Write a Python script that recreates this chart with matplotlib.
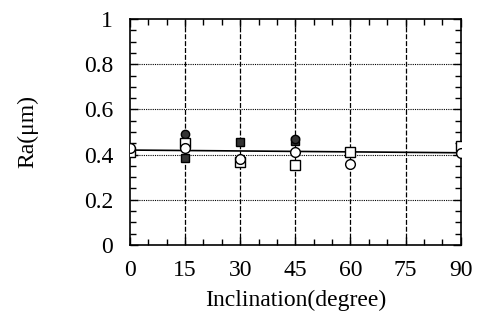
import matplotlib
matplotlib.use("Agg")
import matplotlib.pyplot as plt
import numpy as np
from matplotlib.ticker import MultipleLocator

plt.rcParams['font.family'] = ['Liberation Serif', 'DejaVu Serif']

# open circles
oc_x = [0, 15, 30, 45, 60, 90]
oc_y = [0.43, 0.43, 0.38, 0.41, 0.36, 0.405]
# open squares
os_x = [0, 15, 30, 45, 60, 90]
os_y = [0.41, 0.45, 0.365, 0.355, 0.41, 0.437]
# filled circles
fc_x = [15, 45]
fc_y = [0.49, 0.47]
# filled squares
fs_x = [15, 30, 45]
fs_y = [0.385, 0.455, 0.46]
# fitted line
fit_x = [0, 90]
fit_y = [0.42, 0.408]

fig = plt.figure(figsize=(4.81, 3.30), dpi=100)
ax = fig.add_axes([0.270, 0.258, 0.688, 0.684])

ax.plot(fit_x, fit_y, color='black', lw=1.2, zorder=3)
ax.plot(fs_x, fs_y, 's', ms=6, mfc='#333333', mec='black', zorder=4)
ax.plot(fc_x, fc_y, 'o', ms=6, mfc='#333333', mec='black', zorder=4)
ax.plot(os_x, os_y, 's', ms=6.5, mfc='white', mec='black', mew=1, zorder=5)
ax.plot(oc_x, oc_y, 'o', ms=7, mfc='white', mec='black', mew=1, zorder=5)

ax.set_xlim(0, 90)
ax.set_ylim(0, 1)
ax.xaxis.set_major_locator(MultipleLocator(15))
ax.xaxis.set_minor_locator(MultipleLocator(5))
ax.yaxis.set_major_locator(MultipleLocator(0.2))
ax.yaxis.set_minor_locator(MultipleLocator(0.05))
ax.set_yticks([0, 0.2, 0.4, 0.6, 0.8, 1.0])
ax.set_yticklabels(['0', '0.2', '0.4', '0.6', '0.8', '1'])

for x in [15, 30, 45, 60, 75]:
    ax.axvline(x, color='black', lw=0.9, ls=(0, (4, 1.5)), zorder=1)
for y in [0.2, 0.4, 0.6, 0.8]:
    ax.axhline(y, color='black', lw=0.8, ls=(0, (1, 1)), zorder=1)

ax.tick_params(which='both', direction='in', top=True, right=True, width=1)
ax.tick_params(which='major', length=6, labelsize=17)
ax.tick_params(axis='x', which='major', pad=11)
ax.tick_params(axis='y', which='major', pad=12)
ax.tick_params(which='minor', length=4)
for s in ax.spines.values():
    s.set_linewidth(1.2)

ax.set_xlabel('Inclination(degree)', fontsize=17, labelpad=6)
ax.set_ylabel('Ra(μm)', fontsize=17, labelpad=33)

fig.savefig('out.png', dpi=100)
